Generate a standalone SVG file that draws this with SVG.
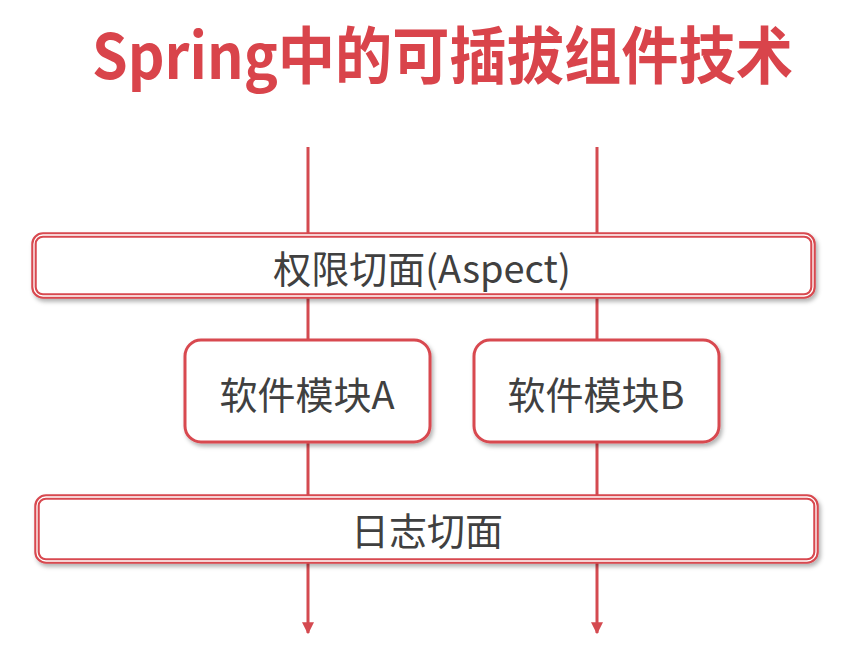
<svg xmlns="http://www.w3.org/2000/svg" width="864" height="646" viewBox="0 0 864 646">
<defs>
<style>
.title{font-family:"Noto Sans CJK SC","Liberation Sans",sans-serif;font-weight:700;font-size:62px;fill:#d9444b}
.lbl{font-family:"Noto Sans CJK SC","Liberation Sans",sans-serif;font-weight:400;font-size:38px;fill:#404040;text-anchor:middle}
.conn{stroke:#d44a50;stroke-width:3;fill:none}
.bar{fill:#fff;stroke:#d84850;stroke-width:5.5}
.barin{fill:none;stroke:#fff;stroke-width:1.3}
.mod{fill:#fff;stroke:#d84850;stroke-width:3}
</style>
<filter id="sh" x="-5%" y="-20%" width="110%" height="150%">
<feDropShadow dx="2" dy="3" stdDeviation="2" flood-color="#000" flood-opacity="0.3"/>
</filter>
<marker id="ah" viewBox="0 0 10 10" refX="9" refY="5" markerWidth="4" markerHeight="4" orient="auto" markerUnits="strokeWidth">
<path d="M0,0 L10,5 L0,10 z" fill="#d44a50"/>
</marker>
</defs>
<rect width="864" height="646" fill="#fff"/>
<text class="title" x="92" y="79" textLength="701" lengthAdjust="spacingAndGlyphs">Spring中的可插拔组件技术</text>
<g id="connectors">
<line class="conn" x1="308" y1="147" x2="308" y2="633" marker-end="url(#ah)"/>
<line class="conn" x1="597" y1="147" x2="597" y2="633" marker-end="url(#ah)"/>
</g>
<g id="aspect">
<rect class="bar" x="34" y="235" width="779" height="61" rx="9" filter="url(#sh)"/>
<rect class="barin" x="34" y="235" width="779" height="61" rx="9"/>
<text class="lbl" x="422" y="283">权限切面(Aspect)</text>
</g>
<g id="moduleA">
<rect class="mod" x="185" y="340" width="245" height="102" rx="16" filter="url(#sh)"/>
<text class="lbl" x="307" y="409">软件模块A</text>
</g>
<g id="moduleB">
<rect class="mod" x="474" y="340" width="245" height="102" rx="16" filter="url(#sh)"/>
<text class="lbl" x="596" y="409">软件模块B</text>
</g>
<g id="log">
<rect class="bar" x="37" y="497" width="779" height="64" rx="9" filter="url(#sh)"/>
<rect class="barin" x="37" y="497" width="779" height="64" rx="9"/>
<text class="lbl" x="427" y="545">日志切面</text>
</g>
</svg>
